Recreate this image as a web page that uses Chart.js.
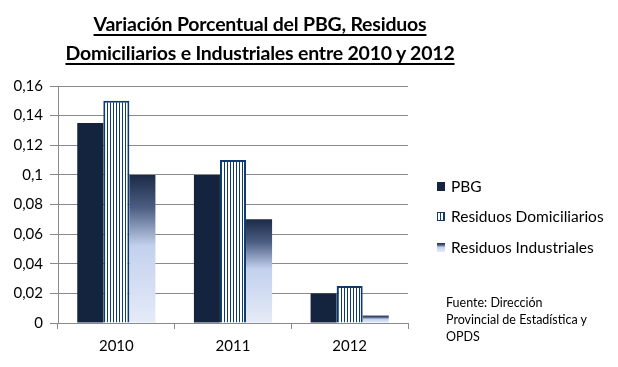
<!DOCTYPE html>
<html>
<head>
<meta charset="utf-8">
<script src="https://cdn.jsdelivr.net/npm/chart.js@4"></script>
<style>
  html, body { margin: 0; padding: 0; background: #fff; }
  #wrap { position: relative; width: 618px; height: 367px; overflow: hidden; }
  #title {
    position: absolute; left: 0; top: 9px; width: 520px; text-align: center;
    font: bold 19.5px Lato, 'Open Sans', sans-serif; line-height: 29px; color: #000;
    letter-spacing: -0.2px;
    text-decoration: underline; text-underline-offset: 3px; text-decoration-thickness: 2px;
  }
  #source {
    position: absolute; left: 446px; top: 294px;
    font: 12.5px Lato, 'Open Sans', sans-serif; line-height: 17px; color: #000;
  }
  canvas { position: absolute; left: 0; top: 0; }
</style>
</head>
<body>
<div id="wrap">
  <canvas id="c" width="618" height="367"></canvas>
  <div id="title">Variación Porcentual del PBG, Residuos<br>Domiciliarios e Industriales entre 2010 y 2012</div>
  <div id="source">Fuente: Dirección<br>Provincial de Estadística y<br>OPDS</div>
</div>
<script>
// data
var categories = ['2010', '2011', '2012'];
var seriesNames = ['PBG', 'Residuos Domiciliarios', 'Residuos Industriales'];
var pbg = [0.135, 0.1, 0.02];
var residuosDomiciliarios = [0.15, 0.11, 0.025];
var residuosIndustriales = [0.1, 0.07, 0.005];
var yMax = 0.16;
var yStep = 0.02;

var NAVY = '#15243e';
var STRIPE = '#0f3a6e';
var FONT = "Lato, 'Open Sans', sans-serif";

// vertical stripes, white / navy
function stripePattern(ctx) {
  var p = document.createElement('canvas');
  p.width = 3; p.height = 4;
  var pc = p.getContext('2d');
  pc.fillStyle = '#fff'; pc.fillRect(0, 0, 3, 4);
  pc.fillStyle = STRIPE; pc.fillRect(2, 0, 1, 4);
  return ctx.createPattern(p, 'repeat');
}

// dark top fading to pale blue, per bar
function industGradient(ctx, top, base) {
  var g = ctx.createLinearGradient(0, top, 0, base);
  g.addColorStop(0, '#1b2a46');
  g.addColorStop(0.22, '#4b5d82');
  g.addColorStop(0.48, '#c3d1ee');
  g.addColorStop(1, '#e5ebf7');
  return g;
}

var canvas = document.getElementById('c');
var c2d = canvas.getContext('2d');
var stripes = stripePattern(c2d);

// legend on the right, drawn by hand
var legendPlugin = {
  id: 'sideLegend',
  afterDraw: function (chart) {
    var ctx = chart.ctx;
    var x = 437, ys = [186, 216, 247];
    ctx.save();
    ctx.font = '15.5px ' + FONT;
    ctx.textBaseline = 'middle';
    seriesNames.forEach(function (name, i) {
      var y = ys[i];
      if (i === 0) { ctx.fillStyle = NAVY; ctx.fillRect(x, y - 4, 8, 9); }
      if (i === 1) {
        ctx.fillStyle = stripes; ctx.fillRect(x, y - 4, 8, 9);
        ctx.strokeStyle = STRIPE; ctx.lineWidth = 1; ctx.strokeRect(x + 0.5, y - 3.5, 7, 8);
      }
      if (i === 2) { ctx.fillStyle = industGradient(ctx, y - 4, y + 5); ctx.fillRect(x, y - 4, 8, 9); }
      ctx.fillStyle = '#000';
      ctx.fillText(name, x + 14, y + 1);
    });
    ctx.restore();
  }
};

new Chart(c2d, {
  type: 'bar',
  data: {
    labels: categories,
    datasets: [
      { label: seriesNames[0], data: pbg, backgroundColor: NAVY, borderWidth: 0 },
      { label: seriesNames[1], data: residuosDomiciliarios, backgroundColor: stripes,
        borderColor: STRIPE, borderWidth: 2 },
      { label: seriesNames[2], data: residuosIndustriales, borderWidth: 0,
        backgroundColor: function (ctx) {
          var chart = ctx.chart;
          if (!chart.chartArea || ctx.raw === undefined) return '#8fa2c6';
          var y = chart.scales.y;
          return industGradient(chart.ctx, y.getPixelForValue(ctx.raw), y.getPixelForValue(0));
        } }
    ]
  },
  options: {
    responsive: false,
    animation: false,
    layout: { padding: { top: 86, right: 210, left: 0, bottom: 0 } },
    datasets: { bar: { categoryPercentage: 0.67, barPercentage: 1 } },
    plugins: { legend: { display: false }, tooltip: { enabled: false } },
    scales: {
      x: {
        afterFit: function (a) { a.height = 44; },
        grid: { display: true, offset: true, drawOnChartArea: false, tickLength: 6, color: '#8a8a8a' },
        border: { color: '#8a8a8a' },
        ticks: { color: '#000', font: { family: FONT, size: 15 }, padding: 8 }
      },
      y: {
        min: 0, max: yMax,
        afterFit: function (a) { a.width = 58; },
        grid: { color: '#8a8a8a', tickLength: 8 },
        border: { color: '#8a8a8a' },
        ticks: {
          stepSize: yStep, color: '#000', font: { family: FONT, size: 15 }, padding: 7,
          callback: function (v) { return String(Number(v.toFixed(2))).replace('.', ','); }
        }
      }
    }
  },
  plugins: [legendPlugin]
});
</script>
</body>
</html>
